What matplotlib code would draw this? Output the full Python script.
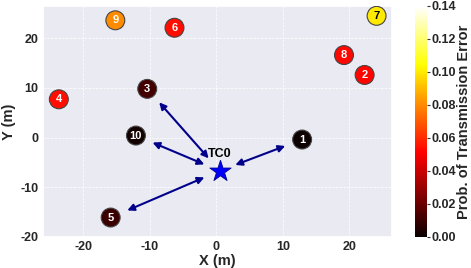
import matplotlib
matplotlib.use("Agg")
import matplotlib.pyplot as plt
import seaborn as sns
import numpy as np

# Data
node_ids = [1, 2, 3, 4, 5, 6, 7, 8, 9, 10]
node_x = [12.9, 22.3, -10.4, -23.7, -15.9, -6.3, 24.1, 19.2, -15.2, -12.1]
node_y = [-0.4, 12.6, 9.8, 7.7, -16.1, 22.1, 24.5, 16.6, 23.6, 0.4]
node_err = [0.001, 0.052, 0.012, 0.054, 0.010, 0.054, 0.100, 0.053, 0.080, 0.002]
tc_x, tc_y = 0.5, -6.7
linked = [1, 3, 10, 5]
xticks = [-20, -10, 0, 10, 20]
yticks = [-20, -10, 0, 10, 20]
cb_ticks = [0.0, 0.02, 0.04, 0.06, 0.08, 0.10, 0.12, 0.14]

sns.set_theme(style="darkgrid")
plt.rcParams['font.family'] = ['Liberation Sans', 'DejaVu Sans']
plt.rcParams['font.weight'] = 'bold'
plt.rcParams['axes.unicode_minus'] = False

fig = plt.figure(figsize=(4.71, 2.68), dpi=100)
ax = fig.add_axes([0.091, 0.116, 0.741, 0.862])
cax = fig.add_axes([0.881, 0.116, 0.0255, 0.862])

ax.grid(True, color='white', linestyle=(0, (3, 1.5)), linewidth=0.6, alpha=0.9)

for nid in linked:
    i = node_ids.index(nid)
    ax.annotate("", xy=(node_x[i], node_y[i]), xytext=(tc_x, tc_y),
                arrowprops=dict(arrowstyle='<|-|>', color='#00008B', lw=1.5,
                                mutation_scale=10, shrinkA=12, shrinkB=13),
                zorder=2)

sc = ax.scatter(node_x, node_y, c=node_err, cmap='hot', vmin=0, vmax=0.14,
                s=185, edgecolors='#444444', linewidths=0.8, zorder=3)
for i, nid in enumerate(node_ids):
    tcol = 'black' if node_err[i] > 0.09 else 'white'
    ax.text(node_x[i], node_y[i], str(nid), ha='center', va='center',
            fontsize=8, fontweight='bold', color=tcol, zorder=4)

ax.scatter([tc_x], [tc_y], marker='*', s=260, c='blue', edgecolors='#00008B',
           linewidths=0.6, zorder=4)
ax.text(tc_x, tc_y + 3.4, "TC0", ha='center', va='center', fontsize=9,
        fontweight='bold', color='black', zorder=5)

ax.set_xlim(-26.1, 26.4)
ax.set_ylim(-20, 26.5)
ax.set_xticks(xticks)
ax.set_yticks(yticks)
ax.set_xticklabels([str(v) for v in xticks])
ax.set_yticklabels([str(v) for v in yticks])
ax.tick_params(axis='both', labelsize=9, pad=3, length=0)
for lab in ax.get_xticklabels() + ax.get_yticklabels():
    lab.set_fontweight('bold')
ax.set_xlabel("X (m)", fontsize=10.5, fontweight='bold', labelpad=1)
ax.set_ylabel("Y (m)", fontsize=10.5, fontweight='bold', labelpad=3)

cb = fig.colorbar(sc, cax=cax)
cb.set_ticks(cb_ticks)
cb.ax.set_yticklabels([f"{v:.2f}" for v in cb_ticks], fontweight='bold', fontsize=9)
cb.ax.tick_params(labelsize=9, pad=1, length=2, width=0.8, color='#333333')
cb.outline.set_visible(False)
cb.set_label("Prob. of Transmission Error", fontsize=10.5, fontweight='bold', labelpad=1)

fig.savefig("out.png", dpi=100)
